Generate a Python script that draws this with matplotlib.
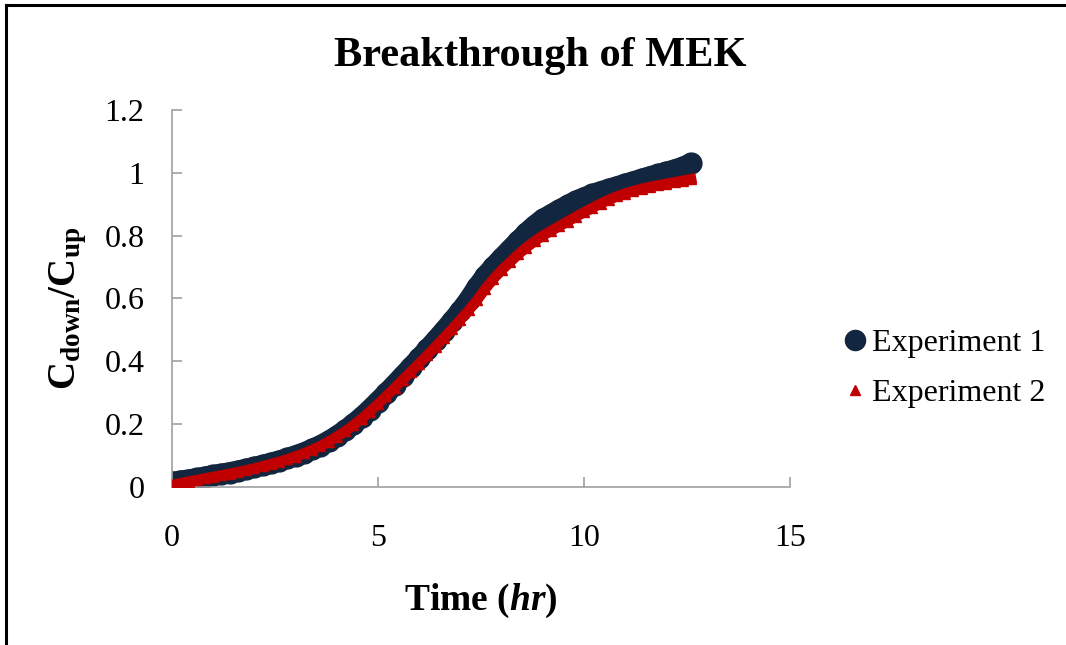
import matplotlib.pyplot as plt
from matplotlib.lines import Line2D

plt.rcParams['font.family'] = ['Liberation Serif', 'DejaVu Serif']
plt.rcParams['mathtext.fontset'] = 'custom'
plt.rcParams['mathtext.rm'] = 'Liberation Serif'
plt.rcParams['mathtext.it'] = 'Liberation Serif:italic'
plt.rcParams['mathtext.bf'] = 'Liberation Serif:bold'
plt.rcParams['mathtext.bfit'] = 'Liberation Serif:italic:bold'

# time (hr), sampled every 0.2 hr
time_hr = [0.0, 0.2, 0.4, 0.6, 0.8, 1.0, 1.2, 1.4, 1.6, 1.8,
           2.0, 2.2, 2.4, 2.6, 2.8, 3.0, 3.2, 3.4, 3.6, 3.8,
           4.0, 4.2, 4.4, 4.6, 4.8, 5.0, 5.2, 5.4, 5.6, 5.8,
           6.0, 6.2, 6.4, 6.6, 6.8, 7.0, 7.2, 7.4, 7.6, 7.8,
           8.0, 8.2, 8.4, 8.6, 8.8, 9.0, 9.2, 9.4, 9.6, 9.8,
           10.0, 10.2, 10.4, 10.6, 10.8, 11.0, 11.2, 11.4, 11.6, 11.8,
           12.0, 12.2, 12.4, 12.6]

# C_down/C_up, experiment 1
exp1 = [0.015, 0.019, 0.023, 0.027, 0.032, 0.037, 0.041, 0.046, 0.051, 0.057,
        0.063, 0.069, 0.076, 0.083, 0.091, 0.100, 0.109, 0.120, 0.132, 0.146,
        0.162, 0.180, 0.200, 0.222, 0.246, 0.272, 0.298, 0.325, 0.353, 0.381,
        0.409, 0.438, 0.467, 0.497, 0.528, 0.560, 0.595, 0.635, 0.670, 0.700,
        0.728, 0.755, 0.782, 0.808, 0.832, 0.852, 0.867, 0.882, 0.896, 0.910,
        0.921, 0.931, 0.940, 0.948, 0.956, 0.964, 0.972, 0.980, 0.988, 0.995,
        1.002, 1.010, 1.018, 1.030]

# C_down/C_up, experiment 2
exp2 = [0.006, 0.012, 0.017, 0.022, 0.027, 0.032, 0.037, 0.042, 0.047, 0.053,
        0.059, 0.066, 0.073, 0.080, 0.088, 0.097, 0.107, 0.118, 0.130, 0.144,
        0.160, 0.177, 0.196, 0.217, 0.240, 0.264, 0.289, 0.315, 0.341, 0.367,
        0.393, 0.420, 0.447, 0.475, 0.503, 0.532, 0.562, 0.594, 0.630, 0.662,
        0.690, 0.715, 0.740, 0.762, 0.782, 0.800, 0.815, 0.830, 0.845, 0.860,
        0.874, 0.888, 0.902, 0.914, 0.925, 0.934, 0.942, 0.949, 0.955, 0.960,
        0.965, 0.970, 0.975, 0.980]

x_ticks = [0, 5, 10, 15]
y_ticks = [0, 0.2, 0.4, 0.6, 0.8, 1.0, 1.2]
y_tick_labels = ['0', '0.2', '0.4', '0.6', '0.8', '1', '1.2']

navy = '#12263f'
red = '#c00000'
gray = '#a0a0a0'

fig = plt.figure(figsize=(10.66, 6.45), dpi=100)
ax = fig.add_axes([0.1614, 0.245, 0.5797, 0.5845])

# thick bands: line under the markers so the dense series reads as one trail
ax.plot(time_hr, exp1, color=navy, lw=15, solid_capstyle='round', zorder=2)
ax.plot(time_hr, exp1, 'o', color=navy, ms=15, zorder=2)
ax.plot(time_hr, exp2, color=red, lw=7.5, zorder=3)
ax.plot(time_hr, exp2, '^', color=red, ms=7.5, zorder=3)

ax.set_xlim(0, 15)
ax.set_ylim(0, 1.2)
ax.set_xticks(x_ticks)
ax.set_yticks(y_ticks)
ax.set_yticklabels(y_tick_labels)

for s in ['top', 'right']:
    ax.spines[s].set_visible(False)
for s in ['left', 'bottom']:
    ax.spines[s].set_color(gray)
    ax.spines[s].set_linewidth(1.2)
ax.tick_params(axis='both', direction='in', length=7, width=1.2, color=gray,
               labelsize=23)
ax.tick_params(axis='x', pad=27)
ax.tick_params(axis='y', pad=20)

fig.text(0.5066, 0.913, 'Breakthrough of MEK', fontsize=30.5, fontweight='bold',
         ha='center', va='center')
ax.set_xlabel(r'Time ($\mathbfit{hr}$)', fontsize=27, fontweight='bold', labelpad=20)
ax.set_ylabel(r'$\mathbf{C_{down}/C_{up}}$', fontsize=28)
ax.yaxis.set_label_coords(-0.135, 0.475)

handles = [Line2D([], [], ls='none', marker='o', color=navy, ms=14.5),
           Line2D([], [], ls='none', marker='^', color=red, ms=6.5)]
fig.legend(handles, ['Experiment 1', 'Experiment 2'], loc='center left',
           bbox_to_anchor=(0.7777, 0.429), frameon=False, fontsize=23,
           borderpad=0, handlelength=0.6, handletextpad=0.25, labelspacing=0.66)

# chart border along the top and left edges
fig.add_artist(Line2D([0.006, 1.0], [0.992, 0.992], color='black', lw=2.2,
                      transform=fig.transFigure))
fig.add_artist(Line2D([0.006, 0.006], [0.0, 0.992], color='black', lw=2.2,
                      transform=fig.transFigure))

plt.savefig('out.png', dpi=100)
